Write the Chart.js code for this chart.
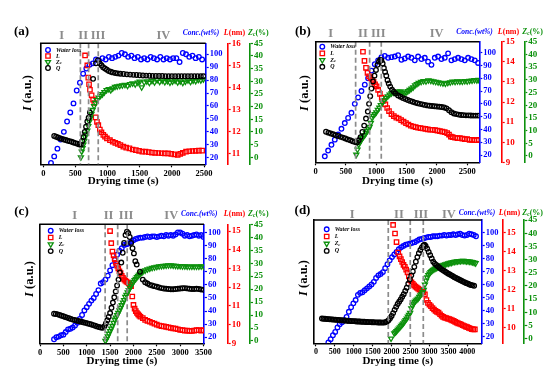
<!DOCTYPE html>
<html>
<head>
<meta charset="utf-8">
<script src="https://cdn.jsdelivr.net/npm/chart.js@4.4.1/dist/chart.umd.min.js"></script>
<style>
  html, body { margin: 0; padding: 0; background: #fff; overflow: hidden; }
  canvas { position: absolute; }
</style>
</head>
<body>
<canvas id="pa" width="275" height="190" style="left:0;top:0"></canvas>
<canvas id="pb" width="275" height="190" style="left:275px;top:0"></canvas>
<canvas id="pc" width="275" height="186" style="left:0;top:185px"></canvas>
<canvas id="pd" width="275" height="186" style="left:275px;top:185px"></canvas>
<script>
// [time (s), value]
const aWater = [[120,16],[170,21],[220,27],[270,34],[320,40],[370,48],[420,55],[470,62],[520,72],[570,78],[620,85],[670,89],[720,92],[770,93],[820,96],[870,95],[920,97],[970,96],[1020,98],[1070,97],[1120,98],[1170,99],[1220,101],[1270,100],[1320,98],[1370,99],[1420,97],[1470,98],[1520,96],[1570,97],[1620,96],[1670,98],[1720,97],[1770,96],[1820,98],[1870,96],[1920,97],[1970,96],[2020,97],[2070,97],[2120,94],[2170,101],[2220,100],[2270,98],[2320,99],[2370,97],[2420,98],[2470,96]];
const aL = [[650,15.45],[685,15.0],[700,14.45],[712,14.15],[726,13.9],[752,13.65],[775,13.45],[794,13.3],[814,12.65],[835,12.45],[856,12.3],[880,12.1],[905,11.98],[934,11.86],[960,11.78],[990,11.7],[1037,11.62],[1080,11.55],[1120,11.5],[1160,11.45],[1200,11.4],[1245,11.33],[1290,11.28],[1340,11.25],[1390,11.2],[1440,11.17],[1490,11.14],[1540,11.1],[1590,11.1],[1640,11.08],[1690,11.06],[1740,11.05],[1790,11.04],[1840,11.03],[1890,11.02],[1940,11.02],[1990,11.0],[2040,10.98],[2090,10.95],[2130,11.0],[2170,11.05],[2220,11.1],[2270,11.12],[2320,11.13],[2370,11.14],[2420,11.15],[2470,11.15]];
const aZc = [[585,0],[598,2.3],[611,3.6],[624,5],[637,6.5],[650,8],[665,9.3],[685,10.5],[700,12.3],[716,14.1],[733,15.6],[750,17.2],[768,18.7],[790,20.2],[810,21.5],[830,22.6],[860,23.6],[890,24.3],[920,24.9],[950,25.7],[985,26.5],[1020,26.9],[1050,26.5],[1080,27.2],[1115,27.8],[1150,28],[1190,28.2],[1230,28.4],[1270,28.6],[1310,28.2],[1350,28.9],[1390,29.2],[1430,28.8],[1470,29.5],[1500,29.9],[1530,27.6],[1570,29.6],[1610,30],[1650,29.4],[1690,30.2],[1730,29.6],[1770,30.5],[1810,29.8],[1850,30.3],[1890,29.7],[1930,30.1],[1970,29.5],[2010,29.9],[2050,30.3],[2090,29.6],[2130,30],[2170,29.4],[2210,29.9],[2250,30.4],[2290,29.8],[2330,30.3],[2370,30.1],[2410,30.6],[2450,30.4],[2490,30.8]];
const aQ = [[170,36.8],[200,36.2],[230,35.6],[260,35.1],[290,34.6],[320,34.1],[350,33.7],[380,33.2],[410,32.8],[440,32.3],[470,31.8],[500,31.3],[530,30.8],[560,30.3],[585,30],[605,33],[625,36],[645,40],[665,44],[685,48],[705,51],[725,55],[775,81],[820,93],[850,95.5],[880,93],[905,91.5],[930,90],[960,89],[990,88],[1020,87],[1050,86.5],[1080,86],[1120,85.5],[1160,85.2],[1200,85],[1250,84.8],[1300,84.5],[1350,84.3],[1400,84.1],[1450,84],[1500,83.8],[1550,83.6],[1600,83.5],[1650,83.4],[1700,83.3],[1750,83.3],[1800,83.2],[1850,83.2],[1900,83.1],[1950,83.1],[2000,83],[2050,83],[2100,83],[2150,83],[2200,83],[2250,83],[2300,83],[2350,83],[2400,83],[2450,83],[2490,83]];
const aPhases = [577, 705, 855];
const aRomanX = [285, 620, 851, 1868];
const aTimeTicks = [0, 500, 1000, 1500, 2000, 2500];

const bWater = [[150,19],[205,23.5],[260,28],[315,32],[370,36],[425,40.5],[480,45],[535,49],[590,53],[645,60],[700,65],[755,70],[810,75],[865,80],[920,86],[975,91],[1030,94],[1085,96.5],[1140,97.5],[1195,96],[1250,96.5],[1305,97],[1360,98],[1415,94.5],[1470,95.5],[1525,97],[1580,96],[1635,94],[1690,97],[1745,95],[1800,96],[1855,93],[1910,90.5],[1965,96],[2020,97],[2075,95],[2130,96],[2185,99.5],[2240,94],[2295,95],[2350,96],[2405,95],[2460,94],[2515,96],[2570,95],[2625,94],[2680,92]];
const bL = [[780,14.5],[805,14.05],[830,13.7],[855,13.45],[880,13.28],[905,13.2],[930,13.1],[955,13.0],[980,12.88],[1005,12.78],[1030,12.6],[1060,12.4],[1090,12.22],[1120,12.05],[1150,11.88],[1180,11.7],[1210,11.55],[1250,11.4],[1290,11.3],[1330,11.22],[1370,11.18],[1410,11.1],[1450,11.02],[1490,10.95],[1530,10.88],[1570,10.82],[1610,10.78],[1650,10.75],[1690,10.72],[1730,10.7],[1770,10.68],[1810,10.66],[1850,10.64],[1890,10.62],[1930,10.62],[1970,10.6],[2010,10.58],[2050,10.55],[2090,10.53],[2130,10.5],[2170,10.45],[2200,10.38],[2230,10.28],[2260,10.25],[2300,10.22],[2340,10.2],[2380,10.2],[2420,10.18],[2460,10.15],[2500,10.15],[2540,10.12],[2580,10.12],[2620,10.1],[2660,10.1],[2690,10.12]];
const bZc = [[670,0.5],[690,2.5],[710,4.5],[730,5.5],[750,6.3],[770,7],[790,7.6],[810,8.2],[830,9],[850,9.8],[870,10.5],[890,11.5],[910,13],[930,15],[950,15.8],[975,16.5],[1000,17.2],[1025,18.2],[1050,19],[1075,20],[1100,21],[1130,22],[1160,22.8],[1190,23.5],[1220,24.2],[1250,24.7],[1280,25],[1310,25],[1340,25.3],[1370,25.2],[1400,25.4],[1430,25],[1460,24.8],[1490,25],[1520,25.5],[1550,26],[1580,26.5],[1610,27],[1640,27.8],[1670,28.3],[1700,28.8],[1740,29.2],[1780,29.5],[1820,29.4],[1860,29.8],[1900,29.6],[1940,29.4],[1980,29.2],[2020,29],[2060,28.8],[2100,28.6],[2140,28.5],[2180,28.8],[2220,29],[2260,29.3],[2300,29.2],[2340,29.4],[2380,29.3],[2420,29.3],[2460,29.5],[2500,29.4],[2540,29.6],[2580,29.7],[2620,29.9],[2660,29.8],[2690,30]];
const bQ = [[170,38.2],[210,37.5],[250,36.8],[290,36.2],[330,35.5],[370,34.9],[410,34.2],[450,33.6],[490,32.9],[530,32.2],[570,31.5],[610,30.8],[650,30.2],[680,29.8],[710,31.5],[740,34],[770,38],[800,43],[830,48.5],[860,54],[880,60],[900,66],[920,72],[945,77.5],[970,82],[995,86.5],[1020,90.5],[1045,93],[1065,94.5],[1085,94],[1105,91.5],[1125,88],[1145,85],[1165,82],[1185,78.5],[1205,76],[1230,73.5],[1260,71],[1290,69.5],[1320,68],[1360,66.5],[1400,65.5],[1440,64.5],[1480,63.8],[1520,63],[1560,62.3],[1600,61.7],[1640,61],[1680,60.5],[1720,60],[1760,59.6],[1800,59.2],[1840,58.8],[1880,58.5],[1920,58.3],[1960,58.1],[2000,57.9],[2040,57.7],[2080,57.5],[2120,57.2],[2160,56.5],[2200,55],[2240,53.5],[2280,52.5],[2320,52],[2360,51.6],[2400,51.3],[2440,51.2],[2480,51],[2520,51],[2560,50.9],[2600,50.8],[2640,50.8],[2680,50.8]];
const bPhases = [659, 890, 1082];
const bRomanX = [247, 780, 1033, 1995];
const bTimeTicks = [0, 500, 1000, 1500, 2000, 2500];

const cWater = [[300,18.5],[350,20],[400,20.5],[450,21.5],[500,22],[550,24],[600,26],[650,26.5],[700,27.5],[750,29],[800,31],[850,34],[900,37],[950,40.5],[1000,43],[1050,45.5],[1100,48],[1150,50],[1200,53],[1250,56],[1300,61],[1350,62],[1400,64],[1450,67],[1500,71],[1550,75],[1600,79],[1650,83],[1700,86],[1750,88],[1800,90.5],[1850,91],[1900,91.5],[1950,93],[2000,94],[2050,95],[2100,95.5],[2150,96],[2200,96],[2250,96.5],[2300,97],[2350,96.5],[2400,97],[2450,97],[2500,96.5],[2550,97],[2600,97.5],[2650,97],[2700,98],[2750,97.5],[2800,98],[2850,97.5],[2900,98.5],[2950,100],[3000,100],[3050,99],[3100,97.5],[3150,98],[3200,97],[3250,97.5],[3300,98],[3350,98.5],[3400,97.5],[3450,98],[3500,96.5]];
const cL = [[1500,15.0],[1525,14.35],[1550,13.9],[1575,13.7],[1600,13.5],[1625,13.3],[1650,13.15],[1675,13.0],[1700,12.85],[1725,12.75],[1750,12.6],[1775,12.5],[1800,12.42],[1825,12.35],[1850,12.3],[1875,12.25],[1900,12.2],[1925,12.12],[1950,12.05],[1975,11.5],[2000,11.05],[2025,10.85],[2050,10.72],[2075,10.62],[2100,10.55],[2125,10.48],[2150,10.42],[2200,10.35],[2250,10.25],[2300,10.2],[2350,10.15],[2400,10.1],[2450,10.05],[2500,10.0],[2550,9.95],[2600,9.92],[2650,9.9],[2700,9.88],[2750,9.85],[2800,9.82],[2850,9.8],[2900,9.78],[2950,9.75],[3000,9.72],[3050,9.7],[3100,9.68],[3150,9.68],[3200,9.66],[3250,9.66],[3300,9.68],[3350,9.7],[3400,9.7],[3450,9.68],[3500,9.7]];
const cZc = [[1400,0],[1425,0.8],[1450,1.8],[1475,2.8],[1500,3.8],[1525,4.8],[1550,5.8],[1575,7],[1600,8.2],[1625,9],[1650,10],[1675,10.8],[1700,11.8],[1725,12.8],[1750,13.8],[1775,14.8],[1800,15.8],[1825,17],[1850,17.8],[1875,18.8],[1900,19.6],[1925,20.5],[1950,21.3],[1975,22.1],[2000,22.8],[2025,23.5],[2050,24],[2075,24.6],[2100,25.1],[2125,25.6],[2150,26],[2175,26.4],[2200,26.7],[2250,27.2],[2300,27.6],[2350,27.9],[2400,28.2],[2450,28.4],[2500,28.6],[2550,28.8],[2600,28.9],[2650,29],[2700,29.1],[2750,29.2],[2800,29.2],[2850,29.1],[2900,29],[2950,28.9],[3000,28.9],[3050,28.8],[3100,28.8],[3150,28.7],[3200,28.7],[3250,28.7],[3300,28.7],[3350,28.7],[3400,28.7],[3450,28.8],[3500,28.7]];
const cQ = [[300,38],[340,37.8],[380,37.5],[420,37],[460,36.5],[500,36],[540,35.5],[580,35],[620,34.5],[660,34],[700,33.5],[740,33.2],[780,32.8],[820,32.4],[860,32],[900,31.6],[940,31.3],[980,31],[1020,30.6],[1060,30.2],[1100,29.8],[1140,29.3],[1180,28.8],[1220,28.3],[1260,27.8],[1300,27.4],[1340,27.2],[1380,28.5],[1410,30.5],[1440,33],[1470,35.5],[1500,38.5],[1530,42.5],[1560,46.5],[1590,50.5],[1620,55],[1650,59.5],[1680,64],[1710,69.5],[1740,77],[1770,84.5],[1800,92],[1830,98],[1860,100.5],[1890,99.5],[1920,96.5],[1950,92],[1980,88],[2010,84],[2040,78],[2070,75.5],[2140,70],[2200,64],[2250,62],[2300,61],[2350,60],[2400,59.5],[2450,59],[2500,58.5],[2550,58],[2600,57.5],[2650,57.2],[2700,57],[2750,56.8],[2800,56.6],[2850,56.6],[2900,56.8],[2950,57],[3000,57.2],[3050,57.4],[3100,57.5],[3150,57.3],[3200,57],[3250,56.8],[3300,56.8],[3350,57],[3400,56.8],[3450,56.5],[3500,56.2]];
const cPhases = [1394, 1663, 1866];
const cRomanX = [740, 1466, 1844, 2810];
const cTimeTicks = [0, 500, 1000, 1500, 2000, 2500, 3000, 3500];

const dWater = [[330,15.5],[390,18],[450,21],[510,23.5],[570,27],[630,29.5],[690,31],[750,32.5],[810,35],[870,39],[930,42.5],[990,45.5],[1050,48],[1110,52],[1170,53.5],[1230,54],[1290,55.5],[1350,57],[1410,58.5],[1470,60],[1530,62],[1590,65],[1650,67],[1710,68],[1770,69.5],[1830,72.5],[1890,75.5],[1950,78.5],[2010,81],[2070,83],[2130,85],[2190,87],[2250,88.5],[2310,89.5],[2370,90.5],[2430,91],[2490,91.5],[2550,92],[2610,92.5],[2670,93.5],[2730,94.5],[2790,95],[2850,95.5],[2910,96],[2970,96.5],[3030,96.5],[3090,97],[3150,97],[3210,97],[3270,97.5],[3330,97.5],[3390,98],[3450,97.5],[3510,98],[3570,98],[3630,98.5],[3690,98],[3750,98.5],[3810,99],[3870,98],[3930,97.5],[3990,98],[4050,99],[4110,98.5],[4170,98],[4230,97]];
const dL = [[2040,15.4],[2090,14.95],[2130,14.5],[2175,13.95],[2210,13.75],[2245,13.6],[2280,13.45],[2315,13.3],[2350,13.2],[2385,13.05],[2420,12.9],[2455,12.7],[2490,12.5],[2525,12.38],[2560,12.3],[2595,12.22],[2630,12.15],[2665,12.1],[2700,12.05],[2735,12.0],[2770,11.95],[2805,11.9],[2840,11.85],[2880,11.75],[2920,11.45],[2960,11.3],[3000,11.2],[3040,11.12],[3080,11.02],[3120,10.95],[3160,10.88],[3200,10.82],[3240,10.78],[3280,10.7],[3320,10.62],[3360,10.56],[3400,10.52],[3440,10.5],[3480,10.47],[3520,10.45],[3560,10.42],[3600,10.38],[3640,10.35],[3680,10.3],[3720,10.26],[3760,10.22],[3800,10.2],[3840,10.16],[3880,10.12],[3920,10.08],[3960,10.05],[4000,10.02],[4040,9.98],[4080,9.95],[4120,9.92],[4160,9.9],[4200,9.9]];
const dZc = [[1985,0],[2070,2],[2100,2.4],[2130,2.8],[2160,3.3],[2190,3.8],[2220,4.3],[2250,4.8],[2280,5.3],[2310,5.8],[2340,6.4],[2370,7],[2400,7.6],[2430,8.3],[2460,9],[2490,9.8],[2520,11.5],[2550,12.5],[2580,13.3],[2610,13.9],[2640,14.4],[2670,14.8],[2700,15.2],[2730,15.8],[2760,16.4],[2790,17],[2820,17.6],[2850,18.5],[2880,20.5],[2910,22],[2940,23.2],[2970,24.1],[3000,24.7],[3030,25.2],[3060,25.6],[3090,26],[3120,26.3],[3150,26.6],[3180,26.8],[3210,27],[3240,27.2],[3270,27.4],[3300,27.6],[3340,27.8],[3380,28],[3420,28.2],[3460,28.4],[3500,28.5],[3540,28.7],[3580,28.8],[3620,29],[3660,29.1],[3700,29.2],[3740,29.3],[3780,29.4],[3820,29.4],[3860,29.5],[3900,29.5],[3940,29.4],[3980,29.3],[4020,29.3],[4060,29.2],[4100,29.1],[4140,29],[4180,28.8],[4220,28.6]];
const dQ = [[160,33.8],[200,33.7],[240,33.6],[280,33.5],[320,33.4],[360,33.3],[400,33.2],[440,33.1],[480,33],[520,32.9],[560,32.8],[600,32.7],[640,32.6],[680,32.5],[720,32.4],[760,32.3],[800,32.2],[840,32.1],[880,32],[920,31.9],[960,31.8],[1000,31.8],[1040,31.7],[1080,31.6],[1120,31.6],[1160,31.5],[1200,31.4],[1240,31.4],[1280,31.3],[1320,31.2],[1360,31.2],[1400,31.1],[1440,31.1],[1480,31],[1520,31],[1560,30.9],[1600,30.9],[1640,30.8],[1680,30.8],[1720,30.8],[1760,30.7],[1800,30.8],[1840,31],[1880,31.5],[1920,32.5],[1960,34],[2000,35.8],[2040,38],[2080,40.5],[2120,42.8],[2160,45],[2200,46.8],[2240,48.5],[2280,50.5],[2320,52.5],[2360,55],[2400,57.5],[2440,60.5],[2480,64],[2520,67],[2560,70],[2600,73.5],[2640,77.5],[2680,81],[2720,84],[2760,86.5],[2800,88.5],[2840,90],[2870,90.5],[2900,89.5],[2940,87.5],[2980,85],[3020,82.5],[3060,80],[3100,77.5],[3140,76],[3180,75],[3220,74],[3260,73],[3300,72],[3340,71.2],[3380,70.5],[3420,69.8],[3460,69],[3500,68.3],[3540,67.6],[3580,67],[3620,66.3],[3660,65.6],[3700,65],[3740,64.4],[3780,63.8],[3820,63.2],[3860,62.6],[3900,62],[3940,61.5],[3980,61],[4020,60.5],[4060,60],[4100,59.6],[4140,59.3],[4180,59]];
const dPhases = [1912, 2493, 2837];
const dRomanX = [960, 2194, 2775, 3515];
const dTimeTicks = [0, 500, 1000, 1500, 2000, 2500, 3000, 3500, 4000];

const phaseNames = ["I", "II", "III", "IV"];

const SERIF = "'Liberation Serif', 'Times New Roman', serif";
const BLUE = "#0000ff", RED = "#ff0000", GREEN = "#0c910c", GREY = "#8c8c8c";
const F = (style, size) => style + " " + size + "px " + SERIF;

// draws a run of differently styled text pieces on one line
function rich(ctx, parts, x, y, align) {
    let w = 0;
    parts.forEach(p => { ctx.font = p.f; p.w = ctx.measureText(p.t).width; w += p.w; });
    let cx = align === "center" ? x - w / 2 : x;
    parts.forEach(p => {
        ctx.font = p.f;
        ctx.fillStyle = p.c;
        ctx.fillText(p.t, cx, y + (p.dy || 0));
        cx += p.w;
    });
}

function decor(s) {
    return {
        id: "decor",
        afterDatasetsDraw(chart) {
            const {ctx, chartArea: a, scales} = chart;
            ctx.save();
            ctx.strokeStyle = GREY;
            ctx.lineWidth = 1.7;
            ctx.setLineDash([5, 3]);
            s.phases.forEach(v => {
                const px = scales.x.getPixelForValue(v);
                ctx.beginPath();
                ctx.moveTo(px, a.top);
                ctx.lineTo(px, a.bottom);
                ctx.stroke();
            });
            ctx.restore();
        },
        afterDraw(chart) {
            const {ctx, chartArea: a, scales} = chart;
            ctx.save();
            ctx.strokeStyle = "#000";
            ctx.lineWidth = 1.5;
            ctx.beginPath();
            ctx.moveTo(a.left - 0.75, a.top);
            ctx.lineTo(a.right, a.top);
            ctx.stroke();

            ctx.textBaseline = "middle";
            ctx.textAlign = "center";
            ctx.fillStyle = GREY;
            ctx.font = F("bold", 12.5);
            phaseNames.forEach((t, i) => ctx.fillText(t, scales.x.getPixelForValue(s.roman[i]), s.romanY));
            ctx.fillStyle = "#000";
            ctx.font = F("bold", 13);
            ctx.fillText(s.label, s.labelX, s.labelY);
            ctx.font = F("bold", 11);
            ctx.fillText("Drying time (s)", (a.left + a.right) / 2, s.xTitleY);
            ctx.textAlign = "left";

            rich(ctx, [{t: "Conc.(wt%)", f: F("italic bold", 7.5), c: BLUE}], scales.yb.left - 4.8, s.titleY, "center");
            rich(ctx, [{t: "L", f: F("italic bold", 8), c: RED}, {t: "(nm)", f: F("bold", 8), c: RED}],
                scales.yr.left + 6.8, s.titleY, "center");
            rich(ctx, [{t: "Z", f: F("italic bold", 8), c: GREEN}, {t: "c", f: F("italic bold", 5.5), c: GREEN, dy: 1.5},
                {t: "(%)", f: F("bold", 8), c: GREEN}], scales.yg.left + 8.4, s.titleY, "center");

            // legend
            const lf = F("italic bold", 6), lfs = F("italic bold", 4.5);
            const items = [
                {parts: [{t: "Water loss", f: lf, c: "#000"}], color: BLUE, style: "circle", r: 2.3, rot: 0},
                {parts: [{t: "L", f: lf, c: "#000"}], color: RED, style: "rect", r: 3.1, rot: 0},
                {parts: [{t: "Z", f: lf, c: "#000"}, {t: "c", f: lfs, c: "#000", dy: 1}],
                    color: GREEN, style: "triangle", r: 2.9, rot: 180},
                {parts: [{t: "Q", f: lf, c: "#000"}], color: "#000", style: "circle", r: 2.3, rot: 0}
            ];
            items.forEach((it, i) => {
                const y = s.legend.y + i * s.legend.dy;
                ctx.strokeStyle = it.color;
                ctx.fillStyle = "rgba(0,0,0,0)";
                ctx.lineWidth = 1.3;
                Chart.helpers.drawPoint(ctx, {pointStyle: it.style, radius: it.r, rotation: it.rot, borderWidth: 1.3}, s.legend.x, y);
                rich(ctx, it.parts, s.legend.x + 8, y, "left");
            });

            // left title, rotated
            ctx.translate(s.yTitle.x, s.yTitle.y);
            ctx.rotate(-Math.PI / 2);
            rich(ctx, [{t: "I", f: F("italic bold", 12.5), c: "#000"}, {t: " (a.u.)", f: F("bold", 12.5), c: "#000"}], 0, 0, "center");
            ctx.restore();
        }
    };
}

function rightAxis(range, step, color, weight, width, size) {
    return {
        type: "linear", position: "right", weight: weight, min: range[0], max: range[1],
        ticks: {stepSize: step, includeBounds: false, autoSkip: false, color: color, padding: 1,
            font: {family: SERIF, weight: "bold", size: size}},
        grid: {drawOnChartArea: false, tickLength: 3, color: color, tickWidth: 1.2},
        border: {color: color, width: 1.6},
        afterFit: sc => { sc.width = width; }
    };
}

function makePanel(id, s) {
    const pts = arr => arr.map(p => ({x: p[0], y: p[1]}));
    const ds = (label, data, axis, color, style, r, rot) => ({
        label: label, data: pts(data), yAxisID: axis, showLine: false,
        pointStyle: style, pointRadius: r, pointHoverRadius: r, pointRotation: rot,
        pointBorderWidth: 1.3, borderColor: color, backgroundColor: "rgba(0,0,0,0)"
    });
    new Chart(document.getElementById(id), {
        type: "scatter",
        data: {
            datasets: [
                ds("Q", s.Q, "y", "#000", "circle", 2.3, 0),
                ds("Zc", s.Z, "yg", GREEN, "triangle", 2.9, 180),
                ds("L", s.L, "yr", RED, "rect", 3.1, 0),
                ds("Water loss", s.water, "yb", BLUE, "circle", 2.3, 0)
            ]
        },
        options: {
            responsive: false,
            animation: false,
            events: [],
            layout: {padding: {top: s.top, right: s.pr, left: 0, bottom: 0}},
            plugins: {legend: {display: false}, tooltip: {enabled: false}},
            scales: {
                x: {
                    type: "linear", min: s.x[0], max: s.x[1],
                    ticks: {autoSkip: false, maxRotation: 0, color: "#000", padding: 1,
                        callback: v => String(v),
                        font: {family: SERIF, weight: "bold", size: s.xTickSize}},
                    afterBuildTicks: sc => { sc.ticks = s.xTicks.map(v => ({value: v})); },
                    grid: {drawOnChartArea: false, tickLength: 3, color: "#000", tickWidth: 1.2},
                    border: {color: "#000", width: 1.6},
                    afterFit: sc => { sc.height = s.h - s.bottom; }
                },
                y: {
                    type: "linear", position: "left", min: s.blue[0], max: s.blue[1],
                    ticks: {display: false},
                    grid: {drawOnChartArea: false, drawTicks: false},
                    border: {color: "#000", width: 1.6},
                    afterFit: sc => { sc.width = s.left; }
                },
                yb: rightAxis(s.blue, 10, BLUE, 0, s.wb, 8.5),
                yr: rightAxis(s.red, 1, RED, 1, s.wr, 9),
                yg: rightAxis(s.green, 5, GREEN, 2, 20, 9)
            }
        },
        plugins: [decor(s)]
    });
}

makePanel("pa", {
    water: aWater, L: aL, Z: aZc, Q: aQ, phases: aPhases, roman: aRomanX, xTicks: aTimeTicks, xTickSize: 8.5,
    x: [-40, 2526], blue: [14.9, 108.5], red: [10.53, 16], green: [-2.76, 45],
    left: 40.7, top: 43.3, bottom: 164.3, h: 190, wb: 22, wr: 22.3, pr: 5,
    romanY: 36, titleY: 33.3, label: "(a)", labelX: 21.5, labelY: 31.7, xTitleY: 181.5,
    legend: {x: 48, y: 50, dy: 6}, yTitle: {x: 28, y: 93}
});
makePanel("pb", {
    water: bWater, L: bL, Z: bZc, Q: bQ, phases: bPhases, roman: bRomanX, xTicks: bTimeTicks, xTickSize: 8.5,
    x: [0, 2700], blue: [14.3, 108.6], red: [9, 15], green: [-2.5, 45],
    left: 40.7, top: 41.7, bottom: 162.3, h: 190, wb: 22.4, wr: 22.6, pr: 5.7,
    romanY: 33.3, titleY: 32.3, label: "(b)", labelX: 27.9, labelY: 31.7, xTitleY: 181.5,
    legend: {x: 47.3, y: 46.7, dy: 6.7}, yTitle: {x: 29.3, y: 93}
});
makePanel("pc", {
    water: cWater, L: cL, Z: cZc, Q: cQ, phases: cPhases, roman: cRomanX, xTicks: cTimeTicks, xTickSize: 8.5,
    x: [0, 3510], blue: [15.4, 106.2], red: [9, 15.36], green: [-0.9, 45],
    left: 40, top: 39.3, bottom: 158.3, h: 186, wb: 23.7, wr: 22.3, pr: 5,
    romanY: 30.7, titleY: 29, label: "(c)", labelX: 21.5, labelY: 26.7, xTitleY: 176.5,
    legend: {x: 50.7, y: 45.7, dy: 6.8}, yTitle: {x: 29.3, y: 94}
});
makePanel("pd", {
    water: dWater, L: dL, Z: dZc, Q: dQ, phases: dPhases, roman: dRomanX, xTicks: dTimeTicks, xTickSize: 8,
    x: [-50, 4380], blue: [14.8, 109.5], red: [9.17, 15.66], green: [-1.8, 45],
    left: 39, top: 35, bottom: 158.3, h: 186, wb: 21, wr: 21.6, pr: 5.7,
    romanY: 30, titleY: 28.3, label: "(d)", labelX: 27.5, labelY: 26, xTitleY: 176.5,
    legend: {x: 51.7, y: 44.3, dy: 7.2}, yTitle: {x: 28.3, y: 93}
});
</script>
</body>
</html>
